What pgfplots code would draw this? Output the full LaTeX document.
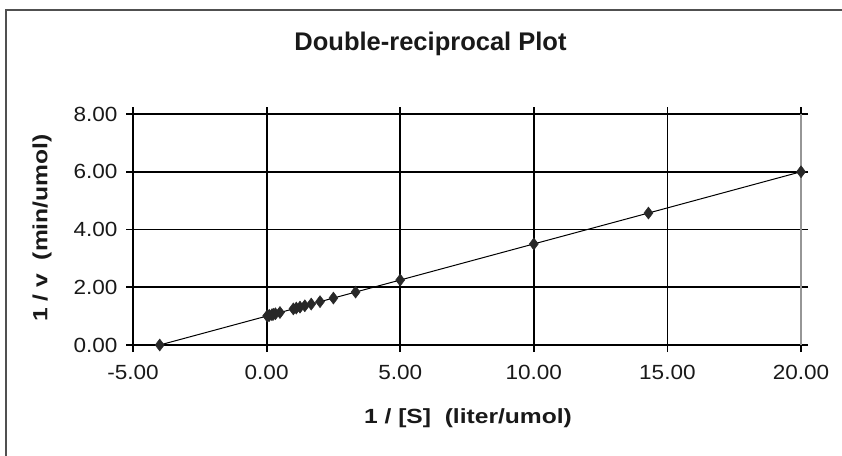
\documentclass[border=0pt]{standalone}
\usepackage{fontspec}
\setmainfont{Liberation Sans}
\newfontfamily\tickfont{Liberation Sans}[FakeStretch=1.1]
\newfontfamily\labfont{Liberation Sans}[FakeStretch=1.2]
\usepackage{pgfplots}
\pgfplotsset{compat=1.18}
\definecolor{frame}{RGB}{80,80,80}
\definecolor{mk}{RGB}{40,40,40}
\definecolor{txt}{RGB}{25,25,25}
\pgfplotstableread{
x y
-4 0
0.02 1.005
0.05 1.0125
0.1 1.025
0.2 1.05
0.25 1.0625
0.33 1.083
0.5 1.125
1.0 1.25
1.11 1.278
1.25 1.3125
1.43 1.357
1.67 1.417
2.0 1.5
2.5 1.625
3.33 1.833
5 2.25
10 3.5
14.29 4.57
20 6.0
}\datatable
\begin{document}
\begin{tikzpicture}[x=1pt,y=1pt]
\useasboundingbox (0,0) rectangle (842,455);
\clip (0,0) rectangle (842,455);
\fill[white] (0,0) rectangle (842,455);
\draw[line width=1.6pt, color=frame] (6,-20) -- (6,445) -- (880,445);
\node[font=\fontsize{25.5}{30}\selectfont\bfseries, text=txt] at (430.5,411) {Double-reciprocal Plot};
\begin{axis}[
  at={(133pt,110pt)}, anchor=south west,
  scale only axis, width=668pt, height=231pt,
  xmin=-5, xmax=20, ymin=0, ymax=8,
  xtick={-5,0,5,10,15,20},
  xticklabels={-5.00,0.00,5.00,10.00,15.00,20.00},
  ytick={0,2,4,6,8},
  yticklabels={0.00,2.00,4.00,6.00,8.00},
  grid=major,
  major grid style={black, line width=1.8pt},
  axis line style={black, line width=1.8pt},
  tick style={black, line width=1.8pt},
  tick align=outside,
  major tick length=7pt,
  tick label style={font=\fontsize{20.5}{24}\tickfont, text=txt},
  xticklabel style={yshift=-10pt},
  yticklabel style={xshift=-5pt},
  clip=false,
]
\draw[color={rgb,255:red,150;green,150;blue,150}, line width=1.8pt] (axis cs:20,0) -- (axis cs:20,8);
\addplot[black, line width=1pt, mark=diamond*, mark size=6pt,
  mark options={fill=mk, draw=mk, line width=0.5pt}] table[x=x,y=y] {\datatable};
\end{axis}
\node[font=\fontsize{20.5}{24}\labfont\bfseries, text=txt] at (468,37) {1 / [S]\ \ (liter/umol)};
\node[font=\fontsize{20.5}{24}\labfont\bfseries, text=txt, rotate=90] at (42,227) {1 / v\ \ (min/umol)};
\end{tikzpicture}
\end{document}
